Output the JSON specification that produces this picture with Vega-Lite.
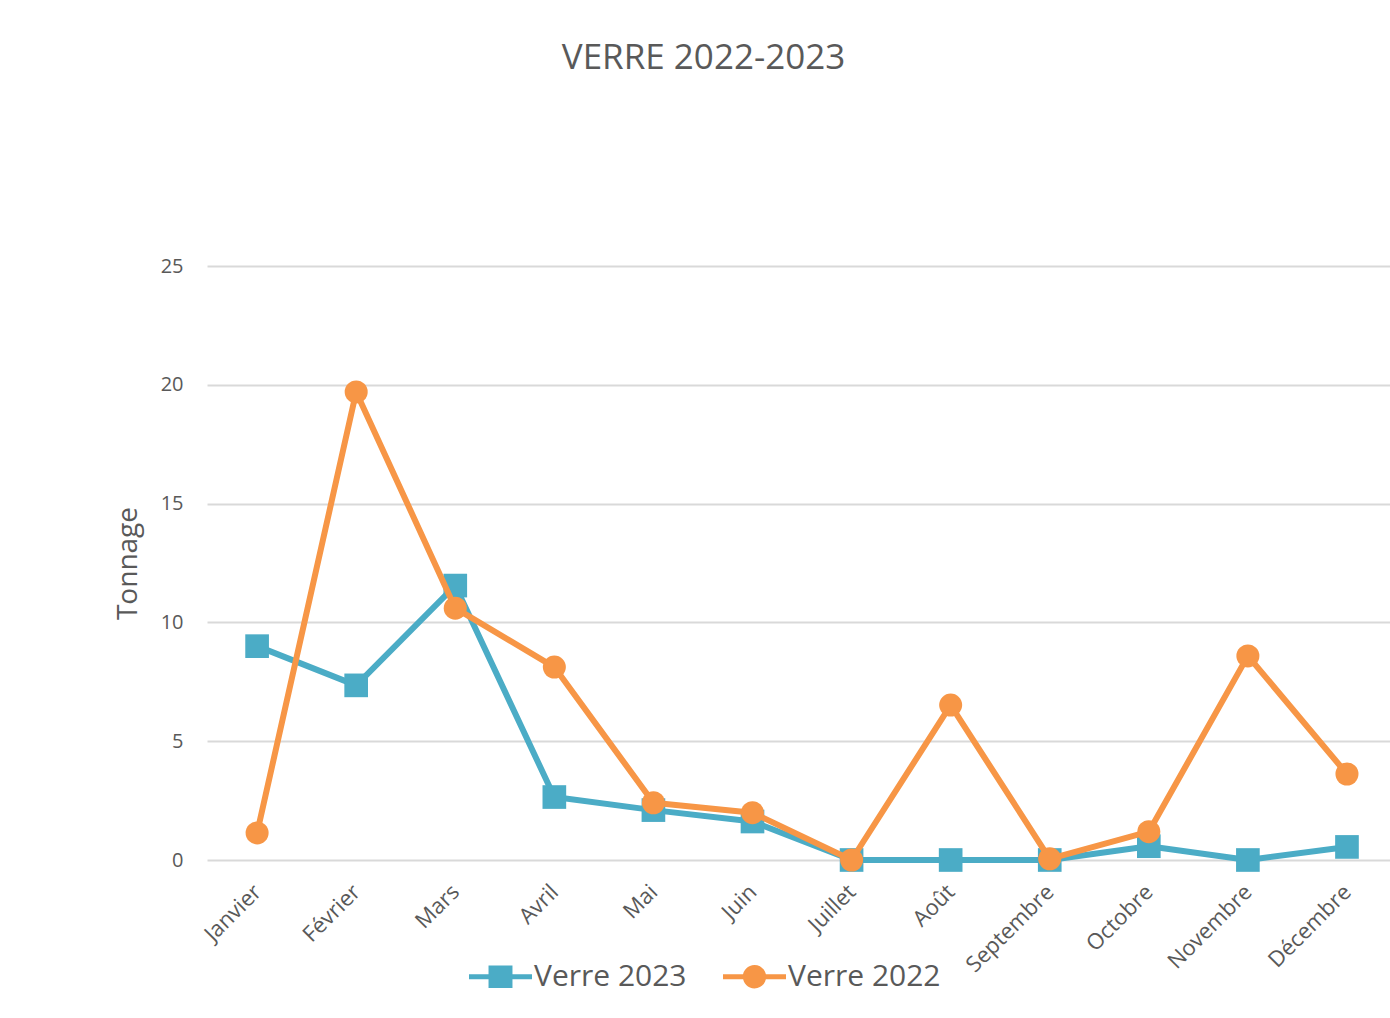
{
  "$schema": "https://vega.github.io/schema/vega-lite/v6.json",
  "width": 1183,
  "height": 594,
  "autosize": "none",
  "padding": {"left": 207, "top": 266, "right": 0, "bottom": 158},
  "background": "white",
  "title": {
    "text": "VERRE 2022-2023",
    "anchor": "middle",
    "frame": "group",
    "dx": -95,
    "offset": 180,
    "font": "Open Sans",
    "fontSize": 35,
    "fontWeight": "normal",
    "color": "#595959"
  },
  "config": {
    "view": {"stroke": null},
    "font": "Open Sans"
  },
  "data": {
    "values": [
      {"mois": "Janvier", "serie": "Verre 2023", "tonnage": 9.0},
      {"mois": "Février", "serie": "Verre 2023", "tonnage": 7.35},
      {"mois": "Mars", "serie": "Verre 2023", "tonnage": 11.55},
      {"mois": "Avril", "serie": "Verre 2023", "tonnage": 2.65},
      {"mois": "Mai", "serie": "Verre 2023", "tonnage": 2.1},
      {"mois": "Juin", "serie": "Verre 2023", "tonnage": 1.62},
      {"mois": "Juillet", "serie": "Verre 2023", "tonnage": 0},
      {"mois": "Août", "serie": "Verre 2023", "tonnage": 0},
      {"mois": "Septembre", "serie": "Verre 2023", "tonnage": 0},
      {"mois": "Octobre", "serie": "Verre 2023", "tonnage": 0.58},
      {"mois": "Novembre", "serie": "Verre 2023", "tonnage": 0},
      {"mois": "Décembre", "serie": "Verre 2023", "tonnage": 0.55},
      {"mois": "Janvier", "serie": "Verre 2022", "tonnage": 1.14},
      {"mois": "Février", "serie": "Verre 2022", "tonnage": 19.7},
      {"mois": "Mars", "serie": "Verre 2022", "tonnage": 10.6},
      {"mois": "Avril", "serie": "Verre 2022", "tonnage": 8.12},
      {"mois": "Mai", "serie": "Verre 2022", "tonnage": 2.41},
      {"mois": "Juin", "serie": "Verre 2022", "tonnage": 1.99},
      {"mois": "Juillet", "serie": "Verre 2022", "tonnage": 0},
      {"mois": "Août", "serie": "Verre 2022", "tonnage": 6.52},
      {"mois": "Septembre", "serie": "Verre 2022", "tonnage": 0.05},
      {"mois": "Octobre", "serie": "Verre 2022", "tonnage": 1.19},
      {"mois": "Novembre", "serie": "Verre 2022", "tonnage": 8.59},
      {"mois": "Décembre", "serie": "Verre 2022", "tonnage": 3.62}
    ]
  },
  "encoding": {
    "x": {
      "field": "mois",
      "type": "ordinal",
      "sort": null,
      "scale": {"type": "point", "padding": 0.47, "align": 0.538},
      "axis": {
        "title": null,
        "domain": false,
        "ticks": false,
        "grid": false,
        "labelAngle": -45,
        "labelAlign": "right",
        "labelBaseline": "middle",
        "labelPadding": 28,
        "labelFontSize": 22,
        "labelColor": "#595959",
        "labelFont": "Open Sans"
      }
    },
    "y": {
      "field": "tonnage",
      "type": "quantitative",
      "scale": {"domain": [0, 25], "nice": false},
      "axis": {
        "values": [0, 5, 10, 15, 20, 25],
        "title": "Tonnage",
        "titleFont": "Open Sans",
        "titleFontSize": 28,
        "titleFontWeight": "normal",
        "titleColor": "#595959",
        "titlePadding": 18,
        "domain": false,
        "ticks": false,
        "gridColor": "#D9D9D9",
        "gridWidth": 2,
        "labelPadding": 24,
        "labelFontSize": 20,
        "labelColor": "#595959",
        "labelFont": "Open Sans"
      }
    },
    "color": {
      "field": "serie",
      "type": "nominal",
      "scale": {"domain": ["Verre 2023", "Verre 2022"], "range": ["#4BACC6", "#F79646"]}
    }
  },
  "layer": [
    {
      "transform": [{"filter": "datum.serie === 'Verre 2023'"}],
      "mark": {"type": "line", "strokeWidth": 6, "strokeJoin": "round", "strokeCap": "round"}
    },
    {
      "transform": [{"filter": "datum.serie === 'Verre 2023'"}],
      "mark": {"type": "point", "shape": "square", "filled": true, "opacity": 1, "size": 560}
    },
    {
      "transform": [{"filter": "datum.serie === 'Verre 2022'"}],
      "mark": {"type": "line", "strokeWidth": 6, "strokeJoin": "round", "strokeCap": "round"}
    },
    {
      "transform": [{"filter": "datum.serie === 'Verre 2022'"}],
      "mark": {"type": "point", "shape": "circle", "filled": true, "opacity": 1, "size": 530}
    },
    {
      "transform": [{"filter": "false"}],
      "mark": {"type": "point", "filled": true, "opacity": 1},
      "encoding": {
        "shape": {
          "field": "serie",
          "type": "nominal",
          "scale": {
            "domain": ["Verre 2023", "Verre 2022"],
            "range": [
              "M-1,-0.08H1V0.08H-1Z M-0.38,-0.36H0.38V0.36H-0.38Z",
              "M-1,-0.08H1V0.08H-1Z M0.37,0A0.37,0.37 0 1,1 -0.37,0A0.37,0.37 0 1,1 0.37,0Z"
            ]
          },
          "legend": {
            "title": null,
            "orient": "none",
            "direction": "horizontal",
            "legendX": 262,
            "legendY": 679,
            "symbolSize": 3969,
            "symbolStrokeWidth": 0,
            "labelFont": "Open Sans",
            "labelFontSize": 30,
            "labelColor": "#595959",
            "labelOffset": 2,
            "columnPadding": 36,
            "padding": 0
          }
        }
      }
    }
  ]
}
